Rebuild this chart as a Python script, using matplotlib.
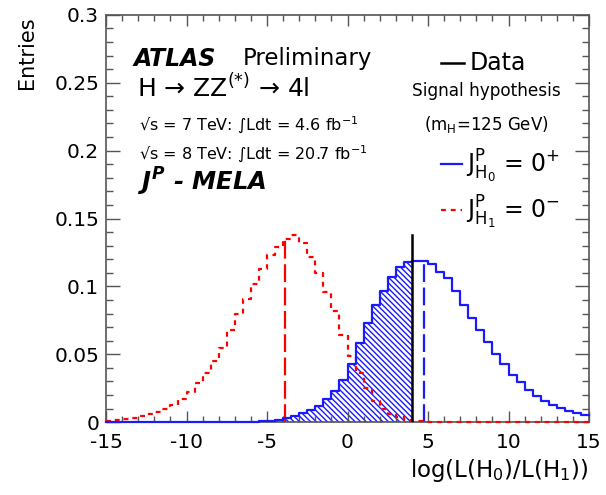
import numpy as np
import matplotlib
matplotlib.use("Agg")
import matplotlib.pyplot as plt
from matplotlib.ticker import MultipleLocator, FixedLocator, FixedFormatter

plt.rcParams["font.family"] = ["DejaVu Sans"]
plt.rcParams["mathtext.fontset"] = "custom"
plt.rcParams["mathtext.rm"] = "DejaVu Sans"
plt.rcParams["mathtext.it"] = "DejaVu Sans:italic:bold"   # only used for the J^P - MELA tag
plt.rcParams["mathtext.bf"] = "DejaVu Sans:bold"
plt.rcParams["hatch.linewidth"] = 1.0

# test statistic binning: 60 bins of 0.5 on [-15, 15]
edges = np.linspace(-15, 15, 61)

# pseudo-experiment distributions, normalised to unit area per bin
h0_plus = [0.0, 0.0, 0.0, 0.0, 0.0, 0.0, 0.0, 0.0, 0.0001, 0.0001,
           0.0001, 0.0001, 0.0001, 0.0002, 0.0002, 0.0003, 0.0003, 0.0004, 0.0004, 0.0006,
           0.0010, 0.0018, 0.0030, 0.0045, 0.0065, 0.0088, 0.0120, 0.0170, 0.0230, 0.0310,
           0.0430, 0.0580, 0.0730, 0.0860, 0.0970, 0.1070, 0.1140, 0.1180, 0.1185, 0.1190,
           0.1165, 0.1110, 0.1060, 0.0970, 0.0860, 0.0770, 0.0680, 0.0590, 0.0505, 0.0430,
           0.0350, 0.0295, 0.0240, 0.0195, 0.0160, 0.0130, 0.0105, 0.0085, 0.0065, 0.0050]
h1_minus = [0.0008, 0.0015, 0.0023, 0.0032, 0.0043, 0.0058, 0.0075, 0.0095, 0.0130, 0.0170,
            0.0220, 0.0290, 0.0360, 0.0450, 0.0550, 0.0680, 0.0800, 0.0910, 0.1020, 0.1130,
            0.1230, 0.1290, 0.1350, 0.1380, 0.1320, 0.1220, 0.1100, 0.0960, 0.0820, 0.0640,
            0.0490, 0.0360, 0.0250, 0.0160, 0.0100, 0.0060, 0.0035, 0.0020, 0.0012, 0.0008,
            0.0005, 0.0004, 0.0003, 0.0002, 0.0002, 0.0001, 0.0001, 0.0001, 0.0001, 0.0,
            0.0, 0.0, 0.0, 0.0, 0.0, 0.0, 0.0, 0.0, 0.0, 0.0]
data_obs = 4.0
median_h0 = 4.75
median_h1 = -3.9

xticks = [-15, -10, -5, 0, 5, 10, 15]
xticklabels = ["-15", "-10", "-5", "0", "5", "10", "15"]
yticks = [0, 0.05, 0.1, 0.15, 0.2, 0.25, 0.3]
yticklabels = ["0", "0.05", "0.1", "0.15", "0.2", "0.25", "0.3"]

BLUE = "#1a1aff"
RED = "#ff0000"

h0 = np.array(h0_plus)
h1 = np.array(h1_minus)


def bin_value(h, x):
    i = np.clip(np.searchsorted(edges, x, side="right") - 1, 0, len(h) - 1)
    return h[i]


fig = plt.figure(figsize=(6.06, 4.95), dpi=100)
ax = fig.add_axes([0.175, 0.147, 0.797, 0.823])

# hatched tail of H0 below the observed value
n_obs = int(np.searchsorted(edges, data_obs))
ax.stairs(h0[:n_obs], edges[:n_obs + 1], fill=True, facecolor="none",
          edgecolor=BLUE, hatch="\\" * 6, linewidth=0)

# histogram outlines, drawn over the frame so the empty bins show along y = 0
ax.step(edges, np.append(h1, h1[-1]), where="post", color=RED, lw=1.6,
        linestyle=(0, (2.2, 2.2)), zorder=3, clip_on=False)
ax.step(edges, np.append(h0, h0[-1]), where="post", color=BLUE, lw=1.6,
        zorder=3, clip_on=False)

ax.plot([median_h1, median_h1], [0, bin_value(h1, median_h1)], color=RED, lw=1.6,
        linestyle=(0, (8, 2.5)))
ax.plot([median_h0, median_h0], [0, bin_value(h0, median_h0)], color=BLUE, lw=1.6,
        linestyle=(0, (8, 2.5)))
ax.plot([data_obs, data_obs], [0, h1.max()], color="black", lw=1.8, zorder=4)

ax.set_xlim(-15, 15)
ax.set_ylim(0, 0.3)
ax.xaxis.set_major_locator(FixedLocator(xticks))
ax.xaxis.set_major_formatter(FixedFormatter(xticklabels))
ax.xaxis.set_minor_locator(MultipleLocator(1))
ax.yaxis.set_major_locator(FixedLocator(yticks))
ax.yaxis.set_major_formatter(FixedFormatter(yticklabels))
ax.yaxis.set_minor_locator(MultipleLocator(0.01))
ax.tick_params(which="both", direction="in", top=True, right=True, color="#555555",
               width=1.0, labelsize=14.5)
ax.tick_params(axis="x", which="major", length=8, pad=7.5)
ax.tick_params(axis="x", which="minor", length=4.5)
ax.tick_params(axis="y", which="major", length=10, pad=5)
ax.tick_params(axis="y", which="minor", length=5)
for s in ax.spines.values():
    s.set_color("#555555")
    s.set_linewidth(1.2)

fig.text(0.045, 0.966, "Entries", rotation=90, ha="center", va="top", fontsize=15)
fig.text(0.970, 0.050, r"log(L(H$_0$)/L(H$_1$))", ha="right", va="center", fontsize=16.5)

# experiment labels
T = ax.transAxes
ax.text(0.056, 0.892, "ATLAS", transform=T, fontsize=17, fontweight="bold", style="italic",
        va="center")
ax.text(0.282, 0.892, "Preliminary", transform=T, fontsize=16.5, va="center")
ax.text(0.064, 0.820, "H → ZZ$^{(*)}$ → 4l", transform=T, fontsize=18, va="center")
ax.text(0.068, 0.728, "√s = 7 TeV: ∫Ldt = 4.6 fb$^{-1}$", transform=T,
        fontsize=11.5, va="center")
ax.text(0.068, 0.657, "√s = 8 TeV: ∫Ldt = 20.7 fb$^{-1}$", transform=T,
        fontsize=11.5, va="center")
ax.text(0.064, 0.590, r"$J^{P}$ - MELA", transform=T, fontsize=17.5, fontweight="bold",
        style="italic", va="center")

# legend
ax.plot([0.693, 0.741], [0.883, 0.883], transform=T, color="black", lw=1.8)
ax.text(0.752, 0.883, "Data", transform=T, fontsize=17, va="center")
ax.text(0.787, 0.812, "Signal hypothesis", transform=T, fontsize=12.2, ha="center",
        va="center")
ax.text(0.787, 0.730, r"(m$_{\mathrm{H}}$=125 GeV)", transform=T, fontsize=12,
        ha="center", va="center")
ax.plot([0.693, 0.737], [0.634, 0.634], transform=T, color=BLUE, lw=1.6)
ax.text(0.746, 0.628, r"J$^{\mathrm{P}}_{\mathrm{H}_{0}}$ = 0$^{+}$", transform=T,
        fontsize=17, va="center")
ax.plot([0.693, 0.737], [0.522, 0.522], transform=T, color=RED, lw=1.6,
        linestyle=(0, (2.2, 2.2)))
ax.text(0.746, 0.514, r"J$^{\mathrm{P}}_{\mathrm{H}_{1}}$ = 0$^{-}$", transform=T,
        fontsize=17, va="center")

fig.savefig("out.png", dpi=100)
